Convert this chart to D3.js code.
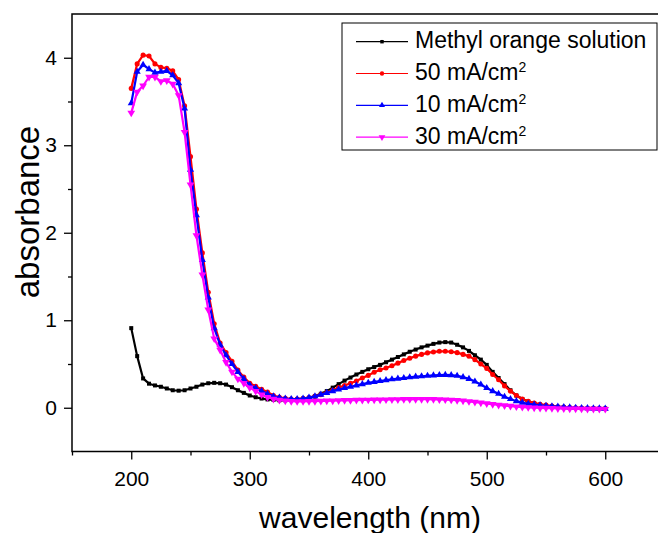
<!DOCTYPE html>
<html>
<head>
<meta charset="utf-8">
<script src="https://cdn.jsdelivr.net/npm/d3@7/dist/d3.min.js"></script>
<style>
body { margin: 0; background: #fff; }
svg text { font-family: "Liberation Sans", Arial, sans-serif; fill: #000; }
</style>
</head>
<body>
<div id="chartDiv"></div>
<script>

// wavelength grid (nm)
var wavelength = [200,205,210,215,220,225,230,235,240,245,250,255,260,265,270,275,280,285,290,295,
	300,305,310,315,320,325,330,335,340,345,350,355,360,365,370,375,380,385,390,395,
	400,405,410,415,420,425,430,435,440,445,450,455,460,465,470,475,480,485,490,495,
	500,505,510,515,520,525,530,535,540,545,550,555,560,565,570,575,580,585,590,595,600];

var methylOrange = [0.91,0.59,0.335,0.275,0.255,0.24,0.22,0.2,0.195,0.2,0.22,0.24,0.265,0.28,0.285,0.28,0.265,0.235,0.2,0.17,
	0.14,0.12,0.105,0.095,0.09,0.085,0.085,0.09,0.095,0.105,0.115,0.135,0.16,0.19,0.23,0.27,0.31,0.345,0.38,0.41,
	0.44,0.465,0.49,0.52,0.55,0.58,0.61,0.64,0.665,0.69,0.71,0.73,0.745,0.75,0.745,0.72,0.69,0.65,0.6,0.55,
	0.49,0.41,0.34,0.27,0.2,0.14,0.1,0.07,0.05,0.035,0.023,0.015,0.01,0.005,0.0,-0.003,-0.005,-0.007,-0.008,-0.01,-0.01];

var ma50 = [3.65,3.93,4.03,4.02,3.93,3.89,3.88,3.85,3.75,3.45,2.87,2.27,1.77,1.32,0.96,0.74,0.63,0.53,0.43,0.35,
	0.28,0.245,0.21,0.18,0.14,0.12,0.108,0.1,0.1,0.105,0.115,0.13,0.15,0.175,0.2,0.23,0.255,0.28,0.305,0.34,
	0.37,0.405,0.435,0.455,0.48,0.51,0.54,0.565,0.59,0.61,0.627,0.638,0.645,0.645,0.64,0.63,0.61,0.59,0.55,0.5,
	0.45,0.38,0.32,0.25,0.19,0.14,0.1,0.075,0.055,0.04,0.03,0.02,0.012,0.007,0.003,0.0,-0.003,-0.005,-0.007,-0.008,-0.01];

var ma10 = [3.48,3.84,3.92,3.87,3.83,3.84,3.85,3.8,3.71,3.42,2.72,2.2,1.69,1.26,0.91,0.72,0.6,0.5,0.41,0.33,
	0.26,0.225,0.19,0.16,0.13,0.115,0.105,0.1,0.1,0.105,0.115,0.13,0.15,0.17,0.19,0.21,0.225,0.24,0.255,0.27,
	0.285,0.295,0.305,0.315,0.325,0.333,0.34,0.348,0.355,0.36,0.365,0.37,0.374,0.375,0.372,0.365,0.35,0.33,0.3,0.265,
	0.225,0.19,0.16,0.125,0.1,0.075,0.058,0.045,0.035,0.028,0.022,0.017,0.012,0.008,0.004,0.0,-0.003,-0.005,-0.007,-0.008,-0.01];

var ma30 = [3.37,3.61,3.68,3.78,3.78,3.73,3.74,3.7,3.57,3.15,2.55,1.97,1.52,1.12,0.79,0.66,0.52,0.41,0.33,0.28,
	0.23,0.19,0.15,0.12,0.1,0.088,0.08,0.075,0.073,0.073,0.074,0.075,0.077,0.079,0.081,0.083,0.085,0.086,0.088,0.089,
	0.09,0.091,0.092,0.093,0.094,0.095,0.096,0.096,0.097,0.097,0.097,0.096,0.095,0.093,0.09,0.086,0.08,0.073,0.065,0.057,
	0.048,0.04,0.032,0.025,0.019,0.013,0.008,0.004,0.001,-0.002,-0.004,-0.006,-0.008,-0.01,-0.011,-0.012,-0.013,-0.014,-0.015,-0.015,-0.016];

var seriesNames = ["Methyl orange solution", "50 mA/cm", "10 mA/cm", "30 mA/cm"];
var seriesSup = ["", "2", "2", "2"];
var seriesValues = [methylOrange, ma50, ma10, ma30];
var seriesColors = ["#000000", "#ff0000", "#0000ff", "#ff00ff"];

var xMajor = [200, 300, 400, 500, 600];
var xMinor = [150, 250, 350, 450, 550, 650];
var yMajor = [0, 1, 2, 3, 4];
var yMinor = [0.5, 1.5, 2.5, 3.5];

var wd = 658, ht = 533;
var plotL = 72, plotR = 664.5, plotT = 14, plotB = 451.5;

var x = d3.scaleLinear().domain([150, 650]).range([plotL, plotR]);
var y = d3.scaleLinear().domain([-0.5, 4.5]).range([plotB, plotT]);

var svg = d3.select('#chartDiv')
	.append("svg")
	.attr("width", wd)
	.attr("height", ht);

// marker shapes per series (plot) and smaller ones for the legend
var symbols = [
	d3.symbol().type(d3.symbolSquare).size(16),
	d3.symbol().type(d3.symbolCircle).size(20),
	d3.symbol().type(d3.symbolTriangle).size(22),
	d3.symbol().type(d3.symbolTriangle).size(26)
];
var legendSymbols = [
	d3.symbol().type(d3.symbolSquare).size(12),
	d3.symbol().type(d3.symbolCircle).size(15),
	d3.symbol().type(d3.symbolTriangle).size(16),
	d3.symbol().type(d3.symbolTriangle).size(20)
];
var rotations = [0, 0, 0, 180];

var line = d3.line()
	.x(function (d) { return x(d[0]); })
	.y(function (d) { return y(d[1]); });

seriesValues.forEach(function (vals, s) {
	var pts = wavelength.map(function (w, i) { return [w, vals[i]]; });
	var g = svg.append("g").attr("class", "series" + s);
	g.append("path")
		.datum(pts)
		.attr("d", line)
		.attr("fill", "none")
		.attr("stroke", seriesColors[s])
		.attr("stroke-width", 2.2)
		.attr("stroke-linejoin", "round");
	g.selectAll("path.mk")
		.data(pts)
		.enter()
		.append("path")
		.attr("class", "mk")
		.attr("d", symbols[s])
		.attr("transform", function (d) {
			return "translate(" + x(d[0]) + "," + y(d[1]) + ") rotate(" + rotations[s] + ")";
		})
		.attr("fill", seriesColors[s]);
});

// axes
var xAxisMajor = d3.axisBottom(x).tickValues(xMajor).tickSize(8).tickPadding(12).tickFormat(d3.format("d"));
var xAxisMinor = d3.axisBottom(x).tickValues(xMinor).tickSize(4).tickFormat("");
var yAxisMajor = d3.axisLeft(y).tickValues(yMajor).tickSize(8).tickPadding(7).tickFormat(d3.format("d"));
var yAxisMinor = d3.axisLeft(y).tickValues(yMinor).tickSize(4).tickFormat("");

function styleAxis(g) {
	g.attr("font-size", null).attr("font-family", null);
	g.select(".domain").remove();
	g.selectAll(".tick line").attr("stroke", "#000").attr("stroke-width", 1.3);
	g.selectAll(".tick text").style("font-size", "21px").attr("fill", "#000");
}

svg.append("g").attr("transform", "translate(0," + plotB + ")").call(xAxisMajor).call(styleAxis);
svg.append("g").attr("transform", "translate(0," + plotB + ")").call(xAxisMinor).call(styleAxis);
svg.append("g").attr("transform", "translate(" + plotL + ",0)").call(yAxisMajor).call(styleAxis);
svg.append("g").attr("transform", "translate(" + plotL + ",0)").call(yAxisMinor).call(styleAxis);

// frame
svg.append("rect")
	.attr("x", plotL)
	.attr("y", plotT)
	.attr("width", plotR - plotL)
	.attr("height", plotB - plotT)
	.attr("fill", "none")
	.attr("stroke", "#000")
	.attr("stroke-width", 1.5);

// axis titles
svg.append("text")
	.attr("x", 370)
	.attr("y", 528)
	.attr("text-anchor", "middle")
	.style("font-size", "30px")
	.text("wavelength (nm)");

svg.append("text")
	.attr("transform", "translate(39,212) rotate(-90)")
	.attr("text-anchor", "middle")
	.style("font-size", "33px")
	.text("absorbance");

// legend
var legend = svg.append("g").attr("class", "legend");
legend.append("rect")
	.attr("x", 342)
	.attr("y", 23)
	.attr("width", 315)
	.attr("height", 127)
	.attr("fill", "#fff")
	.attr("stroke", "#000")
	.attr("stroke-width", 1);

seriesNames.forEach(function (name, s) {
	var cy = 41.7 + s * 31.8;
	legend.append("line")
		.attr("x1", 356).attr("x2", 408)
		.attr("y1", cy).attr("y2", cy)
		.attr("stroke", seriesColors[s])
		.attr("stroke-width", 1.2);
	legend.append("path")
		.attr("d", legendSymbols[s])
		.attr("transform", "translate(382," + cy + ") rotate(" + rotations[s] + ")")
		.attr("fill", seriesColors[s]);
	var t = legend.append("text")
		.attr("x", 415)
		.attr("y", cy + 6.5)
		.style("font-size", "23px")
		.text(name);
	if (seriesSup[s]) {
		t.append("tspan")
			.attr("dy", -8)
			.style("font-size", "14px")
			.text(seriesSup[s]);
	}
});

</script>
</body>
</html>
